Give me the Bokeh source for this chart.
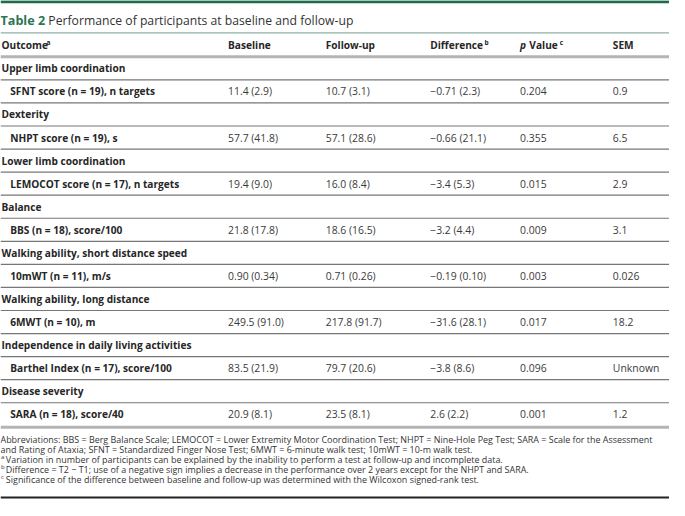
from bokeh.plotting import figure
from bokeh.models import Range1d
from bokeh.core.properties import value
from bokeh.embed import file_html
from bokeh.resources import INLINE

# ---------------- data ----------------
title_label = "Table 2"
title_text = "Performance of participants at baseline and follow-up"
headers = ["Outcome", "Baseline", "Follow-up", "Difference", "Value", "SEM"]
header_sups = ["a", "", "", "b", "c", ""]
groups = ["Upper limb coordination", "Dexterity", "Lower limb coordination", "Balance",
          "Walking ability, short distance speed", "Walking ability, long distance",
          "Independence in daily living activities", "Disease severity"]
measures = ["SFNT score (n = 19), n targets", "NHPT score (n = 19), s",
            "LEMOCOT score (n = 17), n targets", "BBS (n = 18), score/100",
            "10mWT (n = 11), m/s", "6MWT (n = 10), m",
            "Barthel Index (n = 17), score/100", "SARA (n = 18), score/40"]
baseline = ["11.4 (2.9)", "57.7 (41.8)", "19.4 (9.0)", "21.8 (17.8)",
            "0.90 (0.34)", "249.5 (91.0)", "83.5 (21.9)", "20.9 (8.1)"]
followup = ["10.7 (3.1)", "57.1 (28.6)", "16.0 (8.4)", "18.6 (16.5)",
            "0.71 (0.26)", "217.8 (91.7)", "79.7 (20.6)", "23.5 (8.1)"]
difference = ["\u22120.71 (2.3)", "\u22120.66 (21.1)", "\u22123.4 (5.3)", "\u22123.2 (4.4)",
              "\u22120.19 (0.10)", "\u221231.6 (28.1)", "\u22123.8 (8.6)", "2.6 (2.2)"]
p_values = ["0.204", "0.355", "0.015", "0.009", "0.003", "0.017", "0.096", "0.001"]
sem = ["0.9", "6.5", "2.9", "3.1", "0.026", "18.2", "Unknown", "1.2"]
footnotes = [
    "Abbreviations: BBS = Berg Balance Scale; LEMOCOT = Lower Extremity Motor Coordination Test; NHPT = Nine-Hole Peg Test; SARA = Scale for the Assessment",
    "and Rating of Ataxia; SFNT = Standardized Finger Nose Test; 6MWT = 6-minute walk test; 10mWT = 10-m walk test.",
    "Variation in number of participants can be explained by the inability to perform a test at follow-up and incomplete data.",
    "Difference = T2 \u2212 T1; use of a negative sign implies a decrease in the performance over 2 years except for the NHPT and SARA.",
    "Significance of the difference between baseline and follow-up was determined with the Wilcoxon signed-rank test.",
]
footnote_sups = ["", "", "a", "b", "c"]

# ---------------- layout ----------------
W, H = 685, 516
FONT = value("Open Sans")
TXT = "#3a3a3a"
BOLD = "#262626"
GREEN = "#2a7653"

p = figure(width=669, height=500, x_range=Range1d(0, W), y_range=Range1d(H, 0),
           output_backend="svg", toolbar_location=None, min_border=0,
           x_axis_type=None, y_axis_type=None, outline_line_color=None,
           background_fill_color="white", border_fill_color="white")
p.grid.visible = False

def txt(xs, ys, texts, size, color=TXT, style="normal", align="left", baseline="middle"):
    p.text(x=xs, y=ys, text=texts, text_font=FONT, text_font_size=value(size),
           text_color=color, text_font_style=style, text_align=align,
           text_baseline=baseline)

def hline(y, color, width, x0=0, x1=W):
    p.segment(x0=[x0], y0=[y], x1=[x1], y1=[y], line_color=color, line_width=width)

# top bar and title
hline(1.4, "#1e6b4b", 3)
txt([0], [21], [title_label], "12.6px", color=GREEN, style="bold")
txt([49], [21], [title_text], "12.2px", color="#333333")
hline(33.5, "#8fb0a4", 1.3)

# header
col_x = [1, 233, 333, 440, 541.5, 627]
HB = "10.15px"
txt(col_x, [46] * 6, headers, HB, color=BOLD, style="bold")
txt([532], [46], ["p"], HB, color=BOLD, style="bold italic")
sup_x = [47, None, None, 495.5, 572.5, None]
for sx, s in zip(sup_x, header_sups):
    if s:
        txt([sx], [43.5], [s], "6.5px", color=BOLD, style="bold")
hline(58, "#b4b4b4", 3)

# body
row0, dy = 70, 23.8
n = len(groups)
g_y = [row0 + dy * 2 * i for i in range(n)]
m_y = [row0 + dy * (2 * i + 1) for i in range(n)]
txt([1] * n, g_y, groups, HB, color=BOLD, style="bold")
txt([10] * n, m_y, measures, HB, color=BOLD, style="bold")
body_x = [233, 333, 440, 532, 627]
for cx, col in zip(body_x, [baseline, followup, difference, p_values, sem]):
    txt([cx] * n, m_y, col, "10.4px")

sep_y = [row0 + dy * k + dy / 2 for k in range(2 * n - 1)]
p.segment(x0=[0] * len(sep_y), y0=sep_y, x1=[W] * len(sep_y), y1=sep_y,
          line_color="#767676", line_width=1.2)
hline(row0 + dy * (2 * n - 1) + 13.5, "#b4b4b4", 3)

# footnotes
f0, fdy = 453, 10.25
fy = [f0 + fdy * i for i in range(len(footnotes))]
fx = [0 if not s else 5.5 for s in footnote_sups]
txt(fx, fy, footnotes, "8.95px", color="#333333")
for y, s in zip(fy, footnote_sups):
    if s:
        txt([0.5], [y - 2.5], [s], "6px", color="#333333")
hline(513, "#222222", 2)

open("out.html", "w").write(file_html(p, INLINE))
